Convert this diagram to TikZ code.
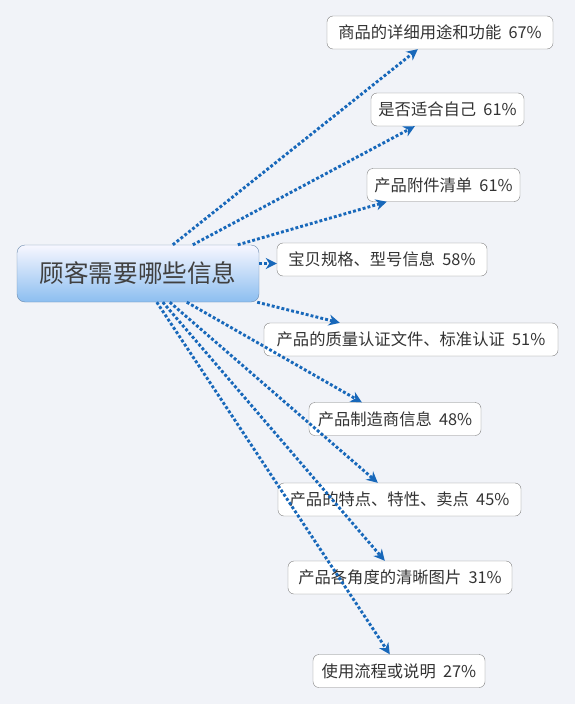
\documentclass[tikz,border=0pt]{standalone}
\usepackage{fontspec}
\setmainfont{Noto Sans CJK SC}
\usetikzlibrary{arrows.meta}
\definecolor{bgcol}{RGB}{241,243,248}
\definecolor{arrcol}{RGB}{24,104,186}
\definecolor{rootline}{RGB}{110,140,175}

\begin{document}
\begin{tikzpicture}[x=1pt,y=-1pt,
leaf/.style={draw=black!50,fill=white,rounded corners=6pt,inner sep=0pt,
  minimum height=33pt,text=black!80,font=\fontsize{16.3}{18}\selectfont},
root/.style={draw=rootline,rounded corners=8pt,inner sep=0pt,
  top color=blue!3!white,bottom color={rgb,255:red,140;green,190;blue,240},
  minimum width=242pt,minimum height=57pt,text=black!75,
  font=\fontsize{24.6}{28}\selectfont},
arr/.style={-{Stealth[length=11pt,width=11pt,inset=3.5pt]},line width=2.9pt,
  dash pattern=on 2.9pt off 2.1pt,draw=arrcol}]
\fill[bgcol] (0,0) rectangle (575,704);
\useasboundingbox (0,0) rectangle (575,704);
\node[root] (info) at (138,273.5) {顾客需要哪些信息};
\node[leaf,minimum width=226pt] (use) at (440,32.5) {商品的详细用途和功能\ \ 67\%};
\node[leaf,minimum width=153pt] (fit) at (447.5,109.5) {是否适合自己\ \ 61\%};
\node[leaf,minimum width=153pt] (parts) at (443.5,185) {产品附件清单\ \ 61\%};
\node[leaf,minimum width=210pt] (spec) at (382,259.5) {宝贝规格、型号信息\ \ 58\%};
\node[leaf,minimum width=294pt] (cert) at (411,339.5) {产品的质量认证文件、标准认证\ \ 51\%};
\node[leaf,minimum width=172pt] (maker) at (395,419) {产品制造商信息\ \ 48\%};
\node[leaf,minimum width=243pt] (feat) at (399.5,499.5) {产品的特点、特性、卖点\ \ 45\%};
\node[leaf,minimum width=224pt] (pics) at (400,577.5) {产品各角度的清晰图片\ \ 31\%};
\node[leaf,minimum width=172pt] (manual) at (399,671) {使用流程或说明\ \ 27\%};
\draw[arr] ([xshift=156pt]info.north west) -- ([xshift=91pt]use.south west);
\draw[arr] ([xshift=176pt]info.north west) -- ([xshift=44pt]fit.south west);
\draw[arr] ([xshift=221pt]info.north west) -- ([xshift=20pt]parts.south west);
\draw[arr] ([yshift=10pt]info.east) -- ([yshift=-4pt]spec.west);
\draw[arr] ([xshift=-2pt]info.south east) -- ([xshift=76pt]cert.north west);
\draw[arr] ([xshift=170pt]info.south west) -- ([xshift=53pt]maker.north west);
\draw[arr] ([xshift=153pt]info.south west) -- ([xshift=100pt]feat.north west);
\draw[arr] ([xshift=146pt]info.south west) -- ([xshift=97pt]pics.north west);
\draw[arr] ([xshift=140pt]info.south west) -- ([xshift=77pt]manual.north west);
\end{tikzpicture}
\end{document}
